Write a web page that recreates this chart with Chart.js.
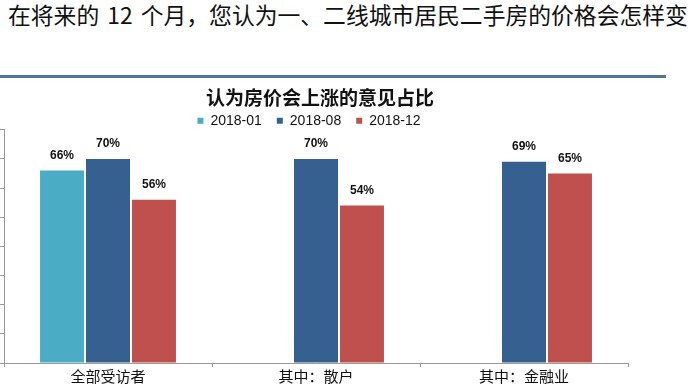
<!DOCTYPE html>
<html>
<head>
<meta charset="utf-8">
<script src="https://cdn.jsdelivr.net/npm/chart.js@4"></script>
<style>
  html, body { margin: 0; padding: 0; background: #fff; width: 700px; height: 390px; overflow: hidden; }
  #heading { position: absolute; left: 8px; top: -1px; font-family: "Noto Sans CJK SC", sans-serif; font-size: 22.8px; line-height: 32px; color: #111; white-space: nowrap; word-spacing: 3px; }
  #rule { position: absolute; left: 0; top: 75px; width: 666px; height: 3px; background: #4f74a1; }
  #wrap { position: absolute; left: 0; top: 82px; width: 640px; height: 308px; }
</style>
</head>
<body>
<div id="heading">在将来的 12 个月，您认为一、二线城市居民二手房的价格会怎样变</div>
<div id="rule"></div>
<div id="wrap"><canvas id="c" width="640" height="308"></canvas></div>
<script>
const chartTitle = '认为房价会上涨的意见占比';
const categories = ['全部受访者', '其中：散户', '其中：金融业'];
const seriesNames = ['2018-01', '2018-08', '2018-12'];
const values201801 = [66, null, null];
const values201808 = [70, 70, 69];
const values201812 = [56, 54, 65];
const yTicks = [0, 10, 20, 30, 40, 50, 60, 70, 80];

const colors = ['#4BACC6', '#35608F', '#C0504D'];

const valueLabels = {
  id: 'valueLabels',
  afterDatasetsDraw(chart) {
    const ctx = chart.ctx;
    ctx.save();
    ctx.font = 'bold 12px "Liberation Sans", Arial, sans-serif';
    ctx.fillStyle = '#111';
    ctx.textAlign = 'center';
    ctx.textBaseline = 'middle';
    chart.data.datasets.forEach((ds, i) => {
      const meta = chart.getDatasetMeta(i);
      meta.data.forEach((el, j) => {
        const v = ds.data[j];
        if (v === null || v === undefined) return;
        ctx.fillText(v + '%', el.x, el.y - 15);
      });
    });
    ctx.restore();
  }
};

const boxTweaks = {
  id: 'boxTweaks',
  beforeUpdate(chart) {
    const lg = chart.legend;
    if (lg && !lg._shrunk) {
      const f = lg.fit;
      lg.fit = function () { f.call(this); this.height -= 8; };
      lg._shrunk = true;
    }
  },
  afterLayout(chart) {
    if (chart.legend) { chart.legend.left -= 5; chart.legend.right -= 5; }
    if (chart.titleBlock) { chart.titleBlock.left += 6; chart.titleBlock.right += 6; }
  }
};

new Chart(document.getElementById('c'), {
  type: 'bar',
  data: {
    labels: categories,
    datasets: [
      { label: seriesNames[0], data: values201801, backgroundColor: colors[0] },
      { label: seriesNames[1], data: values201808, backgroundColor: colors[1] },
      { label: seriesNames[2], data: values201812, backgroundColor: colors[2] }
    ]
  },
  options: {
    responsive: false,
    animation: false,
    devicePixelRatio: 1,
    categoryPercentage: 0.663,
    barPercentage: 0.957,
    layout: { padding: { left: 0, right: 12, top: 0, bottom: 5 } },
    plugins: {
      title: {
        display: true,
        text: chartTitle,
        color: '#111',
        font: { family: '"Noto Sans CJK SC", sans-serif', size: 19, weight: 'bold' },
        padding: { top: 4, bottom: -10 }
      },
      legend: {
        display: true,
        labels: {
          boxWidth: 6, boxHeight: 6, padding: 15, color: '#111',
          font: { family: '"Liberation Sans", Arial, sans-serif', size: 14 }
        }
      },
      tooltip: { enabled: false }
    },
    scales: {
      x: {
        grid: { display: true, drawOnChartArea: false, drawTicks: true, tickLength: 4, color: '#9a9a9a' },
        border: { display: true, color: '#9a9a9a' },
        ticks: { padding: 0, color: '#111', maxRotation: 0, autoSkip: false,
          font: { family: '"Noto Sans CJK SC", sans-serif', size: 15 } }
      },
      y: {
        min: yTicks[0], max: yTicks[yTicks.length - 1],
        afterBuildTicks(axis) { axis.ticks = yTicks.map(v => ({ value: v })); },
        grid: { display: true, drawOnChartArea: false, drawTicks: true, tickLength: 4, color: '#9a9a9a' },
        border: { display: true, color: '#9a9a9a' },
        ticks: { display: false }
      }
    }
  },
  plugins: [valueLabels, boxTweaks]
});
</script>
</body>
</html>
